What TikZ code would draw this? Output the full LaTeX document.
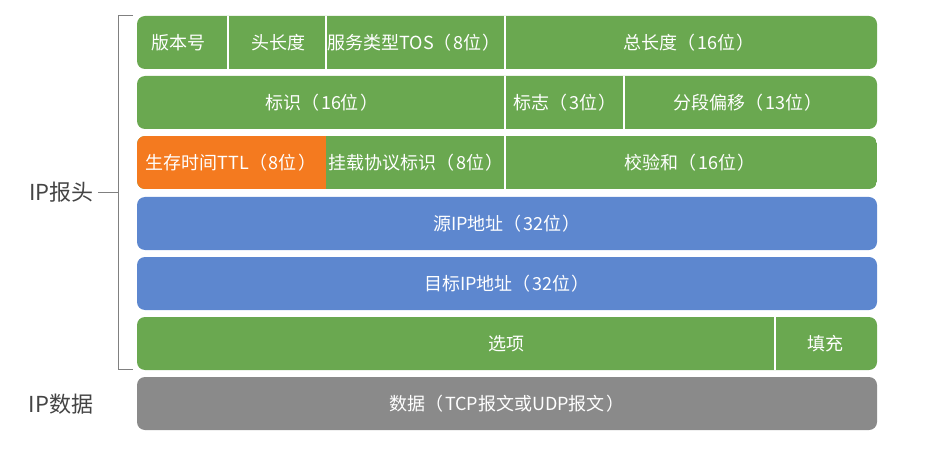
\documentclass[tikz,border=0pt]{standalone}
\usepackage{fontspec}
\setmainfont{Noto Sans CJK SC}
\definecolor{ipgreen}{HTML}{6AA850}
\definecolor{iporange}{HTML}{F47A1F}
\definecolor{ipblue}{HTML}{5D87CF}
\definecolor{ipgray}{HTML}{8A8A8A}
\definecolor{sidetext}{HTML}{444444}
\newcommand{\lp}{（\hspace{0.08em}}
\newcommand{\rp}{\hspace{0.08em}）}
\begin{document}
\begin{tikzpicture}[x=1pt,y=-1pt,
  rowbox/.style={rounded corners=8pt},
  lbl/.style={text=white,font=\fontsize{18}{18}\selectfont,inner sep=0pt,anchor=center},
  side/.style={text=sidetext,font=\fontsize{22}{22}\selectfont,inner sep=0pt},
  divider/.style={white,line width=1.5pt},
  brk/.style={draw=gray,line width=0.8pt}]
\useasboundingbox (0,0) rectangle (933,454);
% row backgrounds
\fill[ipgreen,rowbox] (137,16) rectangle (877,69);
\fill[ipgreen,rowbox] (137,76) rectangle (877,129);
\begin{scope}
  \clip[rounded corners=8pt] (137,136) rectangle (877,189);
  \fill[ipgreen] (137,136) rectangle (877,189);
  \fill[iporange] (137,136) rectangle (326,189);
\end{scope}
\fill[ipblue,rowbox] (137,197) rectangle (877,250);
\fill[ipblue,rowbox] (137,257) rectangle (877,310);
\fill[ipgreen,rowbox] (137,317) rectangle (877,370);
\fill[ipgray,rowbox] (137,377) rectangle (877,430);
% dividers
\draw[divider] (228,16) -- (228,69);
\draw[divider] (326,16) -- (326,69);
\draw[divider] (505,16) -- (505,69);
\draw[divider] (505,76) -- (505,129);
\draw[divider] (624,76) -- (624,129);
\draw[divider] (505,136) -- (505,189);
\draw[divider] (775,317) -- (775,370);
% labels
\node[lbl] (ver) at (178,43) {版本号};
\node[lbl] (hlen) at (278,43) {头长度};
\node[lbl] (tos) at (414,43) {服务类型TOS\lp 8位\rp};
\node[lbl] (tlen) at (689,43) {总长度\lp 16位\rp};
\node[lbl] (ident) at (322,103) {标识\lp 16位\rp};
\node[lbl] (flag) at (565,103) {标志\lp 3位\rp};
\node[lbl] (frag) at (748,103) {分段偏移\lp 13位\rp};
\node[lbl] (ttl) at (231,163) {生存时间TTL\lp 8位\rp};
\node[lbl] (proto) at (416,163) {挂载协议标识\lp 8位\rp};
\node[lbl] (csum) at (690,163) {校验和\lp 16位\rp};
\node[lbl] (src) at (507,224) {源IP地址\lp 32位\rp};
\node[lbl] (dst) at (507,284) {目标IP地址\lp 32位\rp};
\node[lbl] (opt) at (506,344) {选项};
\node[lbl] (pad) at (825,344) {填充};
\node[lbl] (data) at (507,404) {数据\lp TCP报文或UDP报文\rp};
% side labels and bracket
\coordinate (bt) at (133,15);
\coordinate (bb) at (133,369);
\coordinate (bm) at (118,192);
\node[side,anchor=east] (hdr) at (94,192) {IP报头};
\node[side] (ipdata) at (61,404) {IP数据};
\draw[brk] (bt) -- (118,15) -- (118,369) -- (bb);
\draw[brk] (hdr.east) ++(4,0) -- (bm);
\end{tikzpicture}
\end{document}
